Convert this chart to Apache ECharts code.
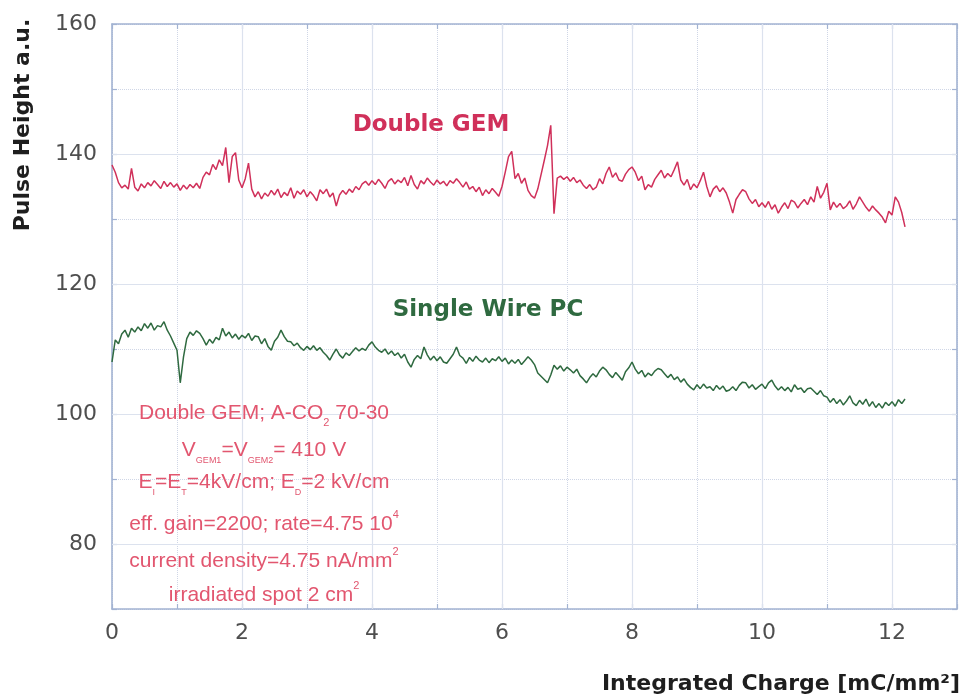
<!DOCTYPE html>
<html><head><meta charset="utf-8">
<script src="https://cdn.jsdelivr.net/npm/echarts@6/dist/echarts.min.js"></script>
<style>html,body{margin:0;padding:0;background:#fff}#c{width:962px;height:698px}</style>
</head><body><div id="c"></div><script>
// Integrated charge [mC/mm2]
const charge = [
0,0.05,0.1,0.15,0.2,0.25,0.3,0.35,0.4,0.45,0.5,0.55,0.6,0.65,0.7,0.75,0.8,0.85,0.9,0.95,
1,1.05,1.1,1.15,1.2,1.25,1.3,1.35,1.4,1.45,1.5,1.55,1.6,1.65,1.7,1.75,1.8,1.85,1.9,1.95,
2,2.05,2.1,2.15,2.2,2.25,2.3,2.35,2.4,2.45,2.5,2.55,2.6,2.65,2.7,2.75,2.8,2.85,2.9,2.95,
3,3.05,3.1,3.15,3.2,3.25,3.3,3.35,3.4,3.45,3.5,3.55,3.6,3.65,3.7,3.75,3.8,3.85,3.9,3.95,
4,4.05,4.1,4.15,4.2,4.25,4.3,4.35,4.4,4.45,4.5,4.55,4.6,4.65,4.7,4.75,4.8,4.85,4.9,4.95,
5,5.05,5.1,5.15,5.2,5.25,5.3,5.35,5.4,5.45,5.5,5.55,5.6,5.65,5.7,5.75,5.8,5.85,5.9,5.95,
6,6.05,6.1,6.15,6.2,6.25,6.3,6.35,6.4,6.45,6.5,6.55,6.6,6.65,6.7,6.75,6.8,6.85,6.9,6.95,
7,7.05,7.1,7.15,7.2,7.25,7.3,7.35,7.4,7.45,7.5,7.55,7.6,7.65,7.7,7.75,7.8,7.85,7.9,7.95,
8,8.05,8.1,8.15,8.2,8.25,8.3,8.35,8.4,8.45,8.5,8.55,8.6,8.65,8.7,8.75,8.8,8.85,8.9,8.95,
9,9.05,9.1,9.15,9.2,9.25,9.3,9.35,9.4,9.45,9.5,9.55,9.6,9.65,9.7,9.75,9.8,9.85,9.9,9.95,
10,10.05,10.1,10.15,10.2,10.25,10.3,10.35,10.4,10.45,10.5,10.55,10.6,10.65,10.7,10.75,10.8,10.85,10.9,10.95,
11,11.05,11.1,11.15,11.2,11.25,11.3,11.35,11.4,11.45,11.5,11.55,11.6,11.65,11.7,11.75,11.8,11.85,11.9,11.95,
12,12.05,12.1,12.15,12.2
];
// Double GEM pulse height (a.u.)
const doubleGem = [
138.3,137.2,135.6,134.8,135.2,134.6,137.8,134.9,134.3,135.4,134.8,135.6,135.1,135.9,135.3,134.7,135.8,135.0,135.6,134.9,
135.4,134.4,135.2,134.6,135.3,134.8,135.5,134.7,136.4,137.2,136.8,138.4,137.6,139.1,138.2,141.0,135.6,139.6,140.2,136.0,
134.8,136.2,138.6,134.6,133.4,134.2,133.1,134.0,133.5,134.4,133.7,134.6,133.3,134.1,133.6,134.8,133.2,134.3,133.8,134.5,
133.4,134.2,133.6,132.8,134.5,133.9,134.6,133.4,134.0,132.0,133.7,134.4,133.8,134.6,134.1,135.0,134.5,135.4,135.8,135.2,
135.9,135.3,136.1,135.5,134.7,135.8,136.2,135.4,136.0,135.6,136.4,135.1,136.7,135.3,134.6,135.9,135.4,136.3,135.7,135.2,
136.0,135.4,135.8,135.1,135.9,135.5,136.2,135.6,134.9,135.7,134.6,135.0,134.2,134.9,133.6,134.5,133.9,134.7,134.1,133.5,
135.0,137.2,139.6,140.4,136.2,137.0,135.5,136.3,134.4,133.6,133.2,134.6,136.8,139.0,141.3,144.4,130.8,136.3,136.6,136.1,
136.5,135.8,136.4,135.6,136.0,135.2,134.7,135.3,134.5,134.9,136.2,135.4,137.0,138.0,136.4,137.1,136.0,135.8,136.9,137.6,
138.0,137.2,135.9,136.6,134.5,135.3,134.9,136.1,136.8,137.5,136.3,137.0,136.5,137.6,138.8,136.0,135.2,136.1,134.5,135.4,
134.8,135.9,137.2,135.0,133.4,134.6,135.1,134.2,134.8,134.0,132.6,130.9,133.0,133.8,134.5,134.2,133.1,132.4,133.0,131.9,
132.5,131.8,132.7,131.5,132.2,130.9,131.8,132.5,131.6,132.9,132.6,131.7,132.4,133.0,132.2,133.4,132.6,135.0,133.2,134.1,
135.5,131.4,132.6,131.8,132.4,131.6,132.0,132.8,131.5,132.3,133.4,132.6,131.8,131.2,132.0,131.4,130.9,130.3,129.4,131.2,
130.6,133.4,132.6,131.0,128.8
];
// Single Wire PC pulse height (a.u.)
const singleWire = [
108.0,111.4,110.8,112.3,112.9,111.8,113.2,112.6,113.4,112.8,113.9,113.2,114.0,112.9,113.6,113.4,114.2,112.9,112.0,110.9,
109.8,104.8,108.8,111.6,112.6,112.1,112.8,112.4,111.6,110.6,111.5,110.9,111.8,111.4,113.2,112.0,112.6,111.7,112.3,111.5,
112.1,111.7,112.4,111.3,112.0,111.9,110.8,111.6,110.4,109.8,111.2,111.8,112.9,111.9,111.2,111.1,110.5,110.9,110.2,109.8,
110.4,109.9,110.5,109.8,110.2,109.5,109.0,108.3,109.2,110.0,109.1,108.6,109.4,109.0,109.6,110.2,109.7,110.1,109.8,110.6,
111.1,110.3,109.8,109.5,110.0,109.2,109.7,109.0,109.4,108.6,109.2,108.0,107.2,108.4,109.0,108.5,110.3,109.1,108.3,108.9,
108.2,108.8,108.0,107.8,108.5,109.2,110.3,109.0,108.6,107.8,108.7,108.1,108.9,108.3,108.0,108.6,107.9,108.5,108.2,108.8,
108.1,108.6,107.7,108.3,107.8,108.4,107.6,108.2,108.8,108.3,107.6,106.3,105.8,105.3,104.8,106.0,107.5,106.9,107.4,106.6,
107.2,106.8,106.3,106.9,105.9,105.4,104.8,105.6,106.2,105.7,106.6,107.2,106.8,106.1,105.6,106.4,105.8,105.2,106.5,107.1,
108.0,106.9,106.2,106.7,105.7,106.3,105.9,106.6,107.0,106.8,106.2,105.6,106.1,105.3,105.7,104.9,105.4,104.6,104.1,103.7,
104.5,103.9,104.6,104.0,104.2,103.6,104.4,103.8,104.3,103.5,103.7,104.2,103.6,104.4,104.9,104.8,104.0,104.5,103.8,104.2,
104.6,103.9,104.8,105.2,104.3,103.7,104.2,103.6,104.1,103.4,104.5,103.8,104.0,103.3,103.9,104.0,103.5,103.0,103.6,102.8,
102.6,101.8,102.4,101.6,102.2,101.4,102.0,102.8,101.7,101.3,102.1,101.5,102.3,101.2,101.9,101.0,101.6,100.9,101.8,101.3,
101.9,101.2,102.2,101.6,102.3
];
// major (solid) grid positions; minor grid positions come from the axis interval
const yMajorTicks = [80, 100, 120, 140];
const xMajorTicks = [2, 4, 6, 8, 10, 12];

const axisColor = '#a3b3d2';
const tickFont = 'DejaVu Sans';
const noteColor = '#e2566f';
const noteFont = 'Liberation Sans';

const chart = echarts.init(document.getElementById('c'), null, {renderer: 'canvas'});

const gemData = charge.map((c, i) => [c, doubleGem[i]]);
const wireData = charge.map((c, i) => [c, singleWire[i]]);

const axisLineStyle = {show: true, onZero: false, lineStyle: {color: axisColor, width: 1.6}};
const tickStyle = {show: true, inside: true, length: 5, lineStyle: {color: axisColor, width: 1.2}};

const richNote = {
  n: {fontSize: 21, fontFamily: noteFont, fill: noteColor, lineHeight: 30, verticalAlign: 'middle'},
  s: {fontSize: 9, fontFamily: noteFont, fill: noteColor, lineHeight: 10, verticalAlign: 'bottom'},
  s2: {fontSize: 11, fontFamily: noteFont, fill: noteColor, lineHeight: 10, verticalAlign: 'bottom'},
  p: {fontSize: 11, fontFamily: noteFont, fill: noteColor, lineHeight: 18, verticalAlign: 'top'}
};
const noteLines = [
  {y: 413, t: '{n|Double GEM; A-CO}{s2|2}{n| 70-30}'},
  {y: 450, t: '{n|V}{s|GEM1}{n|=V}{s|GEM2}{n|= 410 V}'},
  {y: 482, t: '{n|E}{s|I}{n|=E}{s|T}{n|=4kV/cm; E}{s|D}{n|=2 kV/cm}'},
  {y: 524, t: '{n|eff. gain=2200; rate=4.75 10}{p|4}'},
  {y: 561, t: '{n|current density=4.75 nA/mm}{p|2}'},
  {y: 595, t: '{n|irradiated spot 2 cm}{p|2}'}
];

const graphics = noteLines.map(l => ({
  type: 'text', x: 264, y: l.y, z: 20,
  style: {text: l.t, rich: richNote, align: 'center', verticalAlign: 'middle', textAlign: 'center', textVerticalAlign: 'middle'}
}));
graphics.push(
  {type: 'text', x: 431, y: 125, z: 20, style: {text: 'Double GEM', font: 'bold 23px "DejaVu Sans"', fill: '#d0305a', align: 'center', verticalAlign: 'middle', textAlign: 'center', textVerticalAlign: 'middle'}},
  {type: 'text', x: 488, y: 310, z: 20, style: {text: 'Single Wire PC', font: 'bold 23px "DejaVu Sans"', fill: '#2f6a40', align: 'center', verticalAlign: 'middle', textAlign: 'center', textVerticalAlign: 'middle'}},
  {type: 'text', x: 23, y: 125, rotation: Math.PI / 2, z: 20, style: {text: 'Pulse Height a.u.', font: 'bold 22px "DejaVu Sans"', fill: '#1e1e1e', align: 'center', verticalAlign: 'middle', textAlign: 'center', textVerticalAlign: 'middle'}},
  {type: 'text', x: 960, y: 684, z: 20, style: {text: 'Integrated Charge [mC/mm²]', font: 'bold 22px "DejaVu Sans"', fill: '#1e1e1e', align: 'right', verticalAlign: 'middle', textAlign: 'right', textVerticalAlign: 'middle'}}
);

const option = {
  animation: false,
  backgroundColor: '#ffffff',
  grid: {left: 112, right: 5, top: 24, bottom: 89, containLabel: false},
  xAxis: [
    {type: 'value', min: 0, max: 13, interval: 1, position: 'bottom',
     axisLine: axisLineStyle, axisTick: tickStyle,
     axisLabel: {interval: 0, formatter: v => (v % 2 === 0 && v <= 12) ? String(v) : '', fontFamily: tickFont, fontSize: 22, color: '#4e4e4e', margin: 13},
     splitLine: {show: true, lineStyle: {type: 'dotted', color: '#cfd6e6', width: 1}}},
    {type: 'value', min: 0, max: 13, interval: 1, position: 'top',
     axisLine: axisLineStyle, axisTick: tickStyle, axisLabel: {show: false}, splitLine: {show: false}}
  ],
  yAxis: [
    {type: 'value', min: 70, max: 160, interval: 10, position: 'left',
     axisLine: axisLineStyle, axisTick: tickStyle,
     axisLabel: {interval: 0, formatter: v => (v % 20 === 0) ? String(v) : '', fontFamily: tickFont, fontSize: 22, color: '#4e4e4e', margin: 15},
     splitLine: {show: true, lineStyle: {type: 'dotted', color: '#cfd6e6', width: 1}}},
    {type: 'value', min: 70, max: 160, interval: 10, position: 'right',
     axisLine: axisLineStyle, axisTick: tickStyle, axisLabel: {show: false}, splitLine: {show: false}}
  ],
  graphic: graphics,
  series: [
    {type: 'line', name: 'grid', xAxisIndex: 0, yAxisIndex: 0, data: [], z: 1, silent: true,
     markLine: {silent: true, symbol: ['none', 'none'], label: {show: false}, animation: false,
       lineStyle: {type: 'solid', color: '#dce2ee', width: 1.2},
       emphasis: {disabled: true},
       data: yMajorTicks.map(v => ({yAxis: v})).concat(xMajorTicks.map(v => ({xAxis: v})))}},
    {type: 'line', name: 'Double GEM', xAxisIndex: 0, yAxisIndex: 0, data: gemData, z: 10,
     showSymbol: false, symbol: 'none', lineStyle: {color: '#d0305a', width: 1.5}},
    {type: 'line', name: 'Single Wire PC', xAxisIndex: 0, yAxisIndex: 0, data: wireData, z: 10,
     showSymbol: false, symbol: 'none', lineStyle: {color: '#2f6a40', width: 1.5}}
  ]
};
chart.setOption(option);
</script></body></html>
